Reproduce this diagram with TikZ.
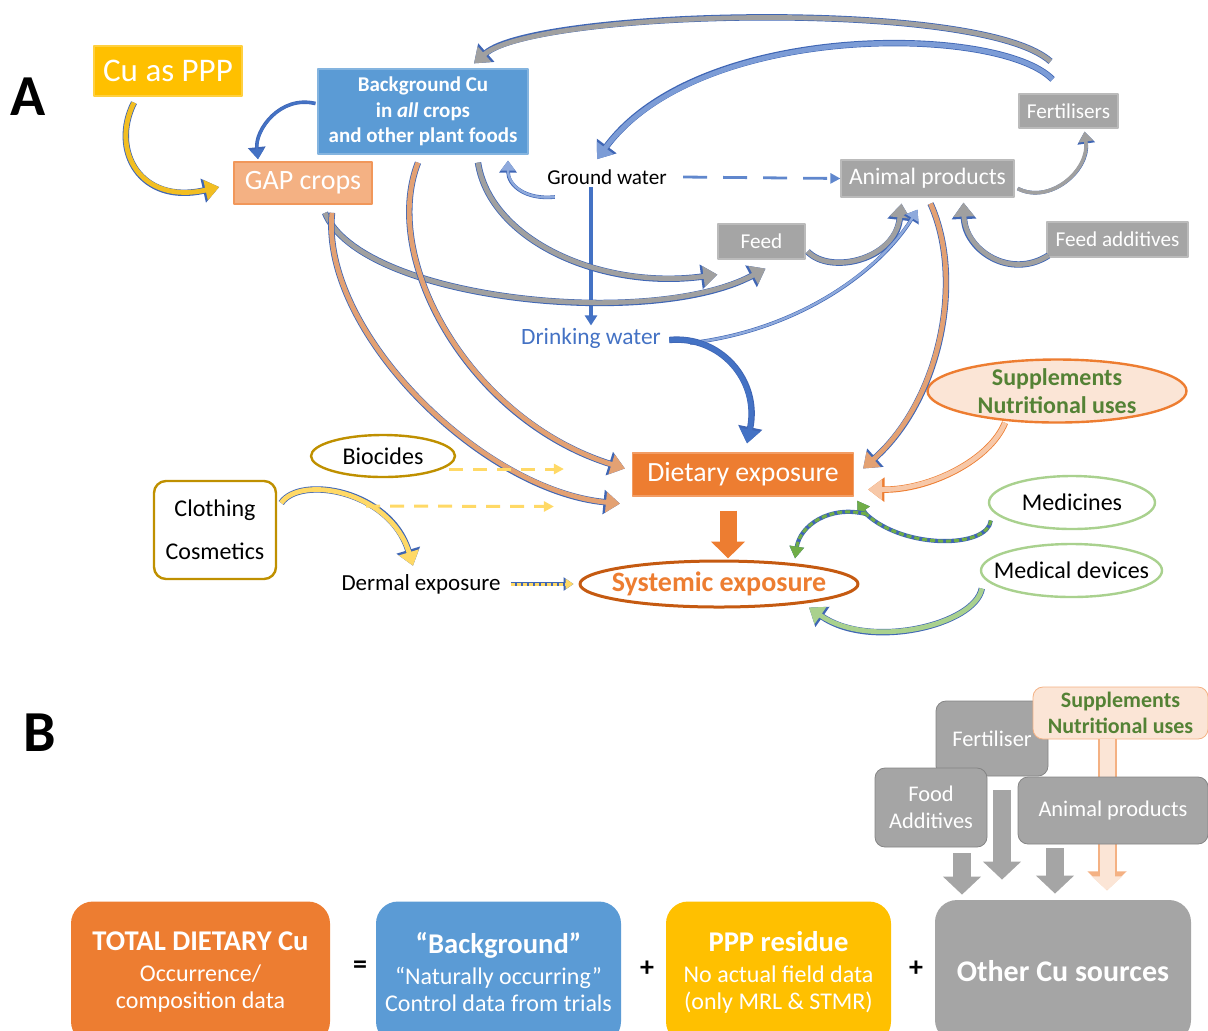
\documentclass[tikz,border=0pt]{standalone}
\usepackage{fontspec}
\setmainfont{Carlito}
\usetikzlibrary{arrows.meta,calc,shapes.geometric}

\definecolor{pppyellow}{HTML}{FFC000}
\definecolor{bgblue}{HTML}{5B9BD5}
\definecolor{gaporange}{HTML}{F4B183}
\definecolor{dietorange}{HTML}{ED7D31}
\definecolor{sysorange}{HTML}{C55A11}
\definecolor{boxgray}{HTML}{A5A5A5}
\definecolor{peach}{HTML}{FBE5D6}
\definecolor{suppgreen}{HTML}{548235}
\definecolor{lightgreen}{HTML}{A9D18E}
\definecolor{gold}{HTML}{BF9000}
\definecolor{waterblue}{HTML}{4472C4}
\definecolor{arrline}{HTML}{3F66B5}
\definecolor{arrtan}{HTML}{E3A173}
\definecolor{arrgray}{HTML}{A0A0A0}
\definecolor{arrblue}{HTML}{7C9CD6}
\definecolor{arrltblue}{HTML}{8FAADC}
\definecolor{arryellow}{HTML}{F2BE22}
\definecolor{dashyellow}{HTML}{FFD966}
\definecolor{medgreen}{HTML}{70AD47}

\newcommand{\fsz}[2]{\fontsize{#1}{#2}\selectfont}

\begin{document}
\begin{tikzpicture}[x=0.5pt, y=-0.5pt, line join=round,
  box/.style={draw=#1!75!white, fill=#1, text=white, inner sep=0pt, align=center, line width=0.6pt},
  gbox/.style={draw=boxgray!80!black, fill=boxgray, text=white, inner sep=0pt, align=center,
    rounded corners=5pt, font=\fsz{11.2}{13.5}},
  bigbox/.style={fill=#1, text=white, inner sep=0pt, align=center, rounded corners=11pt,
    minimum height=71pt, font=\fsz{12}{13.5}},
  oval/.style={ellipse, draw=#1, fill=white, line width=1.2pt, inner xsep=-8pt, inner ysep=-3pt, align=center},
  flowc/.style n args={2}{draw=#1, line width=2.4pt, -{Triangle[length=7pt,width=10pt]},
    preaction={draw=#2, line width=3.2pt, -{Triangle[length=8.2pt,width=11.8pt]}}},
  flow/.style={flowc={#1}{arrline}},
  thinflow/.style={draw=#1, line width=1.2pt, -{Triangle[length=5pt,width=7pt]},
    preaction={draw=arrline, line width=1.8pt, -{Triangle[length=6pt,width=8.5pt]}}},
  ydash/.style={draw=dashyellow, line width=1.5pt, dash pattern=on 7pt off 5pt,
    -{Triangle[length=5pt,width=5pt]}},
  gdash/.style={draw=medgreen, line width=1.5pt, dash pattern=on 2.5pt off 1.5pt,
    -{Triangle[length=6pt,width=7pt]}, preaction={draw=arrline, line width=2.1pt}},
  blk/.style={draw=#1, line width=9pt, -{Triangle[length=9pt,width=18.5pt]}}]
\useasboundingbox (0,0) rectangle (1208,1030);

% ---------- panel A ----------
\node[font=\bfseries\fsz{29}{34}] (labA) at (28,97) {A};

\node[box=pppyellow, minimum width=74pt, minimum height=25pt, font=\fsz{16.5}{20}] (ppp) at (168,71) {Cu as PPP};
\node[box=bgblue, minimum width=105pt, minimum height=42.5pt, font=\bfseries\fsz{10.5}{12.75}] (bg) at (423,111.5)
  {Background Cu\\in \textit{all} crops\\and other plant foods};
\node[draw=dietorange!80!white, fill=gaporange, text=white, inner sep=0pt, line width=0.8pt,
  minimum width=69pt, minimum height=21pt, font=\fsz{14}{17}] (gap) at (303,183) {GAP crops};
\node[inner sep=1pt, font=\fsz{10.6}{13}] (gw) at (607,177) {Ground water};
\node[box=boxgray, minimum width=86.5pt, minimum height=18.5pt, font=\fsz{11.8}{14}] (animal) at (927.5,178.5) {Animal products};
\node[box=boxgray, minimum width=49.5pt, minimum height=17pt, font=\fsz{10.6}{13}] (fert) at (1068.5,111) {Fertilisers};
\node[box=boxgray, minimum width=43.5pt, minimum height=17.5pt, font=\fsz{10.6}{13}] (feed) at (761.5,241.5) {Feed};
\node[box=boxgray, minimum width=70.5pt, minimum height=17.5pt, font=\fsz{10.6}{13}] (feedadd) at (1117.5,239.5) {Feed additives};
\node[inner sep=1pt, text=waterblue, font=\fsz{11.7}{14}] (dw) at (591,338) {Drinking water};
\node[oval=dietorange, fill=peach, minimum width=129.5pt, minimum height=31.5pt, text=suppgreen,
  font=\bfseries\fsz{12}{14}] (supp) at (1057,391) {Supplements\\Nutritional uses};
\node[box=dietorange, minimum width=110.5pt, minimum height=21.5pt, font=\fsz{13.9}{16}] (diet) at (743,474.5) {Dietary exposure};
\node[oval=gold, minimum width=72pt, minimum height=21pt, font=\fsz{12}{14}] (bio) at (383,456) {Biocides};
\node[draw=gold, line width=1.2pt, rounded corners=6pt, inner sep=0pt, align=center,
  minimum width=61pt, minimum height=49pt, font=\fsz{12}{21.5}] (cloth) at (215,530) {Clothing\\Cosmetics};
\node[inner sep=1pt, font=\fsz{11.5}{14}] (dermal) at (421,584) {Dermal exposure};
\node[oval=sysorange, line width=1.5pt, minimum width=139pt, minimum height=23pt, text=dietorange,
  font=\bfseries\fsz{14}{16}] (sys) at (719,584) {Systemic exposure};
\node[oval=lightgreen, minimum width=83pt, minimum height=26.5pt, font=\fsz{12}{14}] (med) at (1072,502.5) {Medicines};
\node[oval=lightgreen, minimum width=90.5pt, minimum height=26.5pt, font=\fsz{12}{14}] (meddev) at (1071.5,570.5) {Medical devices};

% curved arrows
\draw[flow=arryellow] ($(ppp.south)+(-34,6)$) .. controls (110,150) and (140,205) .. ($(gap.west)+(-14,4)$);
\draw[thinflow=waterblue] ($(bg.west)+(-2,-8)$) .. controls (280,95) and (255,130) .. ($(gap.north)+(-45,-2)$);
\draw[flow=arrgray] ($(fert.north)+(-18,-32)$) .. controls (980,-2) and (535,10) .. ($(bg.north)+(51,-5)$);
\draw[flow=arrblue] ($(fert.north)+(-16,-14)$) .. controls (1000,25) and (700,20) .. ($(gw.north)+(-10,-8)$);
\draw[thinflow=arrltblue] ($(gw.west)+(10,20)$) .. controls (525,200) and (508,185) .. ($(bg.south)+(85,6)$);
\draw[waterblue, line width=1.6pt, -{Triangle[length=5pt,width=6pt]}] (gw.south -| dw.north) -- (dw.north);
\draw[waterblue!85!white, line width=1.4pt, dash pattern=on 12pt off 8pt, -{Triangle[length=5pt,width=5pt]}]
  ($(gw.east)+(14,0)$) -- (animal.west);
\draw[flow=arrgray] ($(bg.south)+(55,8)$) .. controls (490,240) and (600,290) .. ($(feed.south west)+(0,15)$);
\draw[flow=arrgray] ($(gap.south)+(22,8)$) .. controls (360,300) and (650,330) .. ($(feed.south)+(4,9)$);
\draw[flow=arrtan] ($(bg.south)+(-5,8)$) .. controls (380,260) and (470,420) .. ($(diet.west)+(-7,-6)$);
\draw[flow=arrtan] ($(gap.south)+(29,8)$) .. controls (320,330) and (480,490) .. ($(diet.south west)+(-12,7)$);
\draw[flow=arrgray] ($(feed.east)+(2,10)$) .. controls (830,275) and (895,260) .. ($(animal.south)+(-26,6)$);
\draw[thinflow=arrltblue] ($(dw.east)+(27,5)$) .. controls (800,330) and (880,270) .. ($(animal.south)+(-10,12)$);
\draw[flow=waterblue] ($(dw.east)+(6,2)$) .. controls (720,335) and (760,380) .. ($(diet.north)+(4,-9)$);
\draw[flow=arrtan] ($(animal.south)+(3,6)$) .. controls (965,280) and (940,400) .. ($(diet.east)+(9,-6)$);
\draw[thinflow=arrgray, line width=1.8pt] ($(animal.east)+(3,10)$) .. controls (1050,205) and (1090,170) .. ($(fert.south)+(16,3)$);
\draw[flow=arrgray] ($(feedadd.west)+(2,16)$) .. controls (1010,280) and (965,250) .. ($(animal.south)+(36,5)$);
\draw[flowc={gaporange!70!white}{dietorange}] ($(supp.south)+(-52,-1)$) .. controls (990,460) and (930,490) .. ($(diet.east)+(14,15)$);
\draw[blk=dietorange, line width=8.5pt, -{Triangle[length=8.5pt,width=16.5pt]}] ($(diet.south)+(-15,14)$) -- ($(sys.north)+(9,-1)$);
\coordinate (fork) at (866,514);
\draw[gdash, -] ($(med.west)+(3,18)$) .. controls (988,548) and (905,550) .. (fork);
\draw[gdash] (fork) -- ($(diet.south east)+(3,4)$);
\draw[gdash] (fork) .. controls (830,505) and (800,525) .. ($(sys.north)+(76,-1)$);
\draw[flow=lightgreen] ($(meddev.west)+(2,18)$) .. controls (975,625) and (870,650) .. ($(sys.south)+(90,-1)$);
\draw[flow=dashyellow] ($(cloth.east)+(4,-27)$) .. controls (300,475) and (390,490) .. ($(dermal.north)+(-8,-6)$);
\draw[ydash] ($(bio.east)+(-7,13)$) -- ($(diet.west)+(-68,-5.5)$);
\draw[ydash] ($(cloth.east)+(89,-24)$) -- ($(diet.west)+(-78,32)$);
\draw[draw=dashyellow, line width=1.5pt, dash pattern=on 2pt off 1pt, -{Triangle[length=4pt,width=5pt]},
  preaction={draw=arrline, line width=2.4pt, -{Triangle[length=5pt,width=6.5pt]}}]
  ($(dermal.east)+(8,0)$) -- ($(sys.west)+(-5,0)$);

% ---------- panel B ----------
\node[font=\bfseries\fsz{29}{34}] (labB) at (40,733) {B};

\node[bigbox=dietorange, minimum width=129.5pt] (total) at (200.5,972.5)
  {{\bfseries\fsz{14.3}{17}TOTAL DIETARY Cu}\\[2pt]Occurrence/\\composition data};
\node[font=\bfseries\fsz{14}{16}] (eq) at (360,967) {=};
\node[bigbox=bgblue, minimum width=122.5pt] (bgB) at (498.5,972.5)
  {{\bfseries\fsz{14.3}{17}“Background”}\\[2pt]“Naturally occurring”\\Control data from trials};
\node[font=\bfseries\fsz{14}{16}] (plusA) at (647,969) {+};
\node[bigbox=pppyellow, minimum width=112.5pt] (pppB) at (778.5,972.5)
  {{\bfseries\fsz{14.3}{17}PPP residue}\\[2pt]No actual field data\\(only MRL \& STMR)};
\node[font=\bfseries\fsz{14}{16}] (plusB) at (916,969) {+};
\node[bigbox=boxgray, minimum width=128pt, font=\bfseries\fsz{15}{17}] (other) at (1063,971) {Other Cu sources};

\node[gbox, minimum width=56pt, minimum height=37.5pt] (fertB) at (992,738.5) {Fertiliser};
\node[gbox, minimum width=56pt, minimum height=39.5pt] (foodB) at (931,807.5) {Food\\Additives};
\node[fill=peach, draw=gaporange, rounded corners=5pt, inner sep=0pt, align=center, text=suppgreen,
  minimum width=87.5pt, minimum height=26pt, font=\bfseries\fsz{11}{13}] (suppB) at (1120.5,713) {Supplements\\Nutritional uses};
\draw[draw=peach, line width=7.5pt, shorten >=1.6pt, -{Triangle[length=7pt,width=15pt]},
  preaction={draw=gaporange, line width=9.5pt, -{Triangle[length=9.5pt,width=19pt]}}]
  ($(suppB.south)+(-13.5,0)$) -- ($(other.north)+(44,-6)$);
\node[gbox, minimum width=95pt, minimum height=33.5pt] (animalB) at (1113,810.5) {Animal products};

\draw[blk=boxgray] ($(foodB.south)+(31,6)$) -- ($(other.north)+(-101,-5)$);
\draw[blk=boxgray] ($(fertB.south)+(10,14)$) -- ($(other.north)+(-61,-20)$);
\draw[blk=boxgray] ($(animalB.south)+(-58,4)$) -- ($(other.north)+(-8,-6)$);
\end{tikzpicture}
\end{document}
